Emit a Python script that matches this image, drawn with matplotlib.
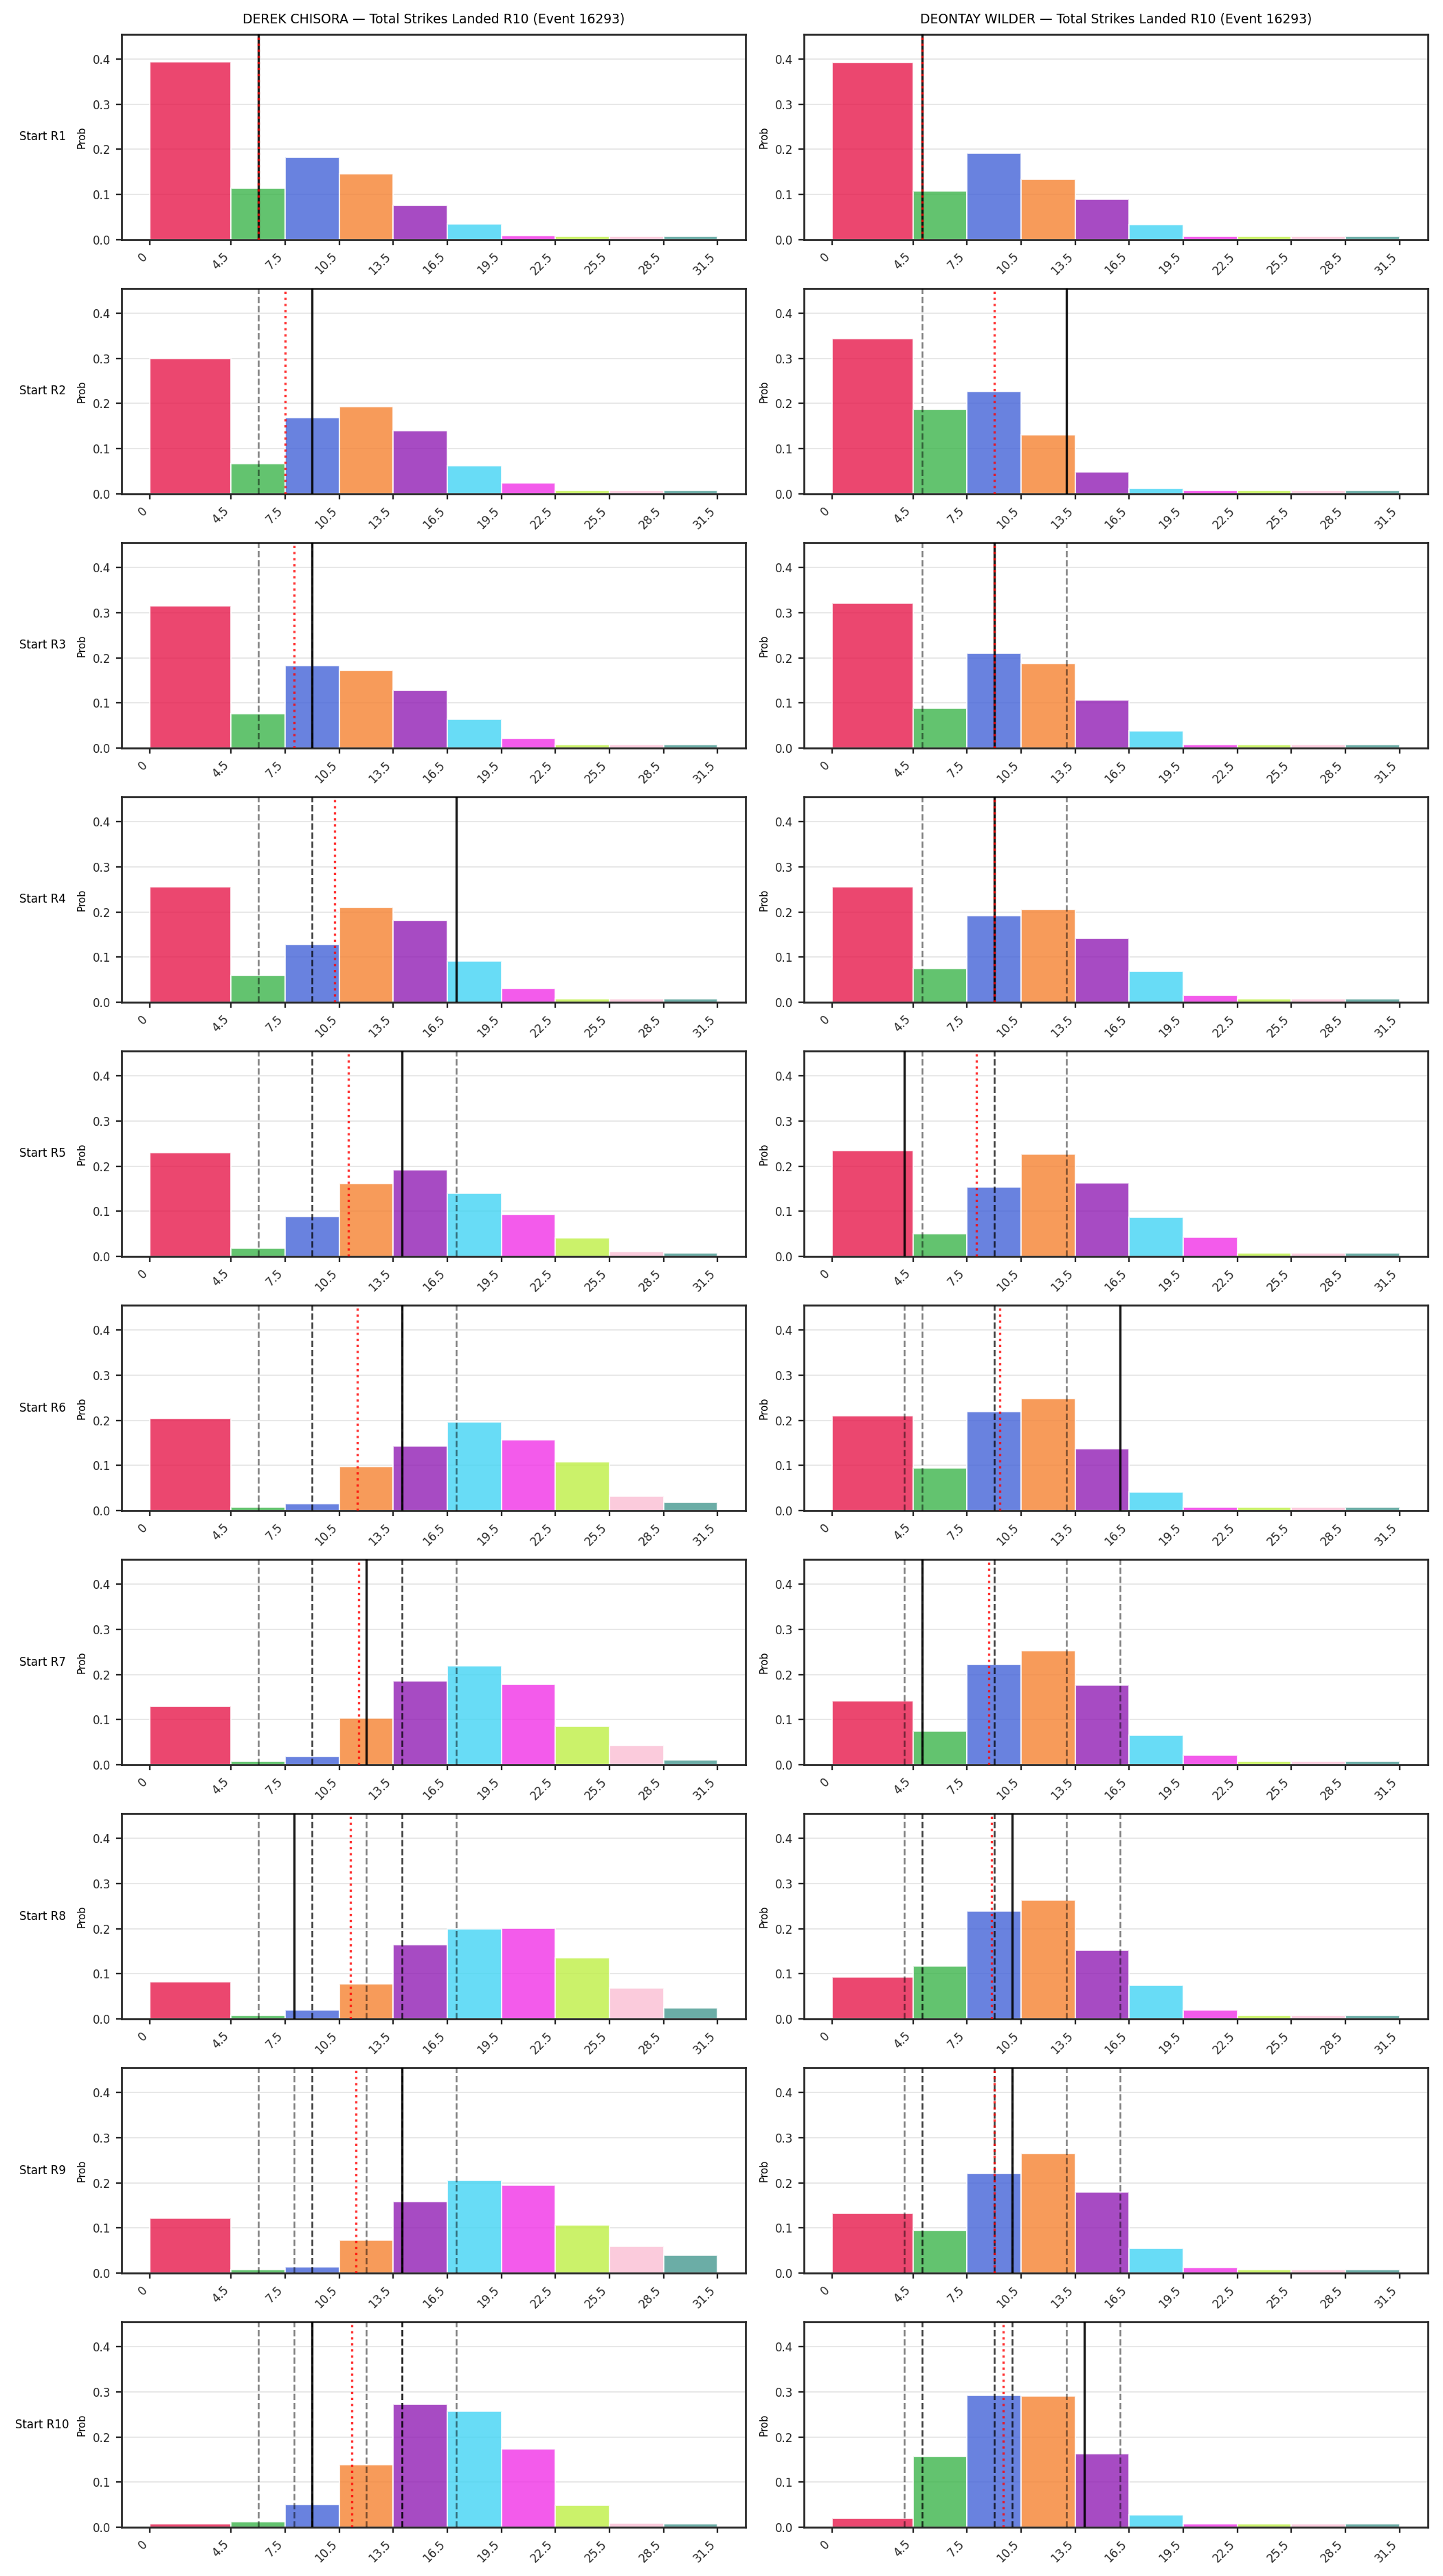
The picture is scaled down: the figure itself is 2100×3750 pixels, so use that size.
import numpy as np
import matplotlib
matplotlib.use("Agg")
import matplotlib.pyplot as plt

# ---------------- data ----------------
fighters = ["DEREK CHISORA", "DEONTAY WILDER"]
title_suffix = "Total Strikes Landed R10 (Event 16293)"
row_labels = [f"Start R{i}" for i in range(1, 11)]

bin_edges = [0, 4.5, 7.5, 10.5, 13.5, 16.5, 19.5, 22.5, 25.5, 28.5, 31.5]
tick_labels = ["0", "4.5", "7.5", "10.5", "13.5", "16.5", "19.5", "22.5", "25.5", "28.5", "31.5"]

bar_colors = ["#e6194b", "#3cb44b", "#4363d8", "#f58231", "#911eb4",
              "#42d4f4", "#f032e6", "#bfef45", "#fabed4", "#469990"]

# probabilities per starting round (rows R1..R10), one list per fighter
chisora_probs = [
    [0.394, 0.114, 0.182, 0.146, 0.076, 0.035, 0.009, 0.007, 0.007, 0.007],
    [0.300, 0.067, 0.169, 0.193, 0.140, 0.063, 0.024, 0.007, 0.007, 0.007],
    [0.315, 0.076, 0.183, 0.172, 0.128, 0.064, 0.021, 0.007, 0.007, 0.007],
    [0.256, 0.060, 0.128, 0.210, 0.181, 0.091, 0.030, 0.007, 0.007, 0.007],
    [0.230, 0.018, 0.088, 0.161, 0.192, 0.140, 0.093, 0.041, 0.010, 0.007],
    [0.204, 0.007, 0.016, 0.098, 0.143, 0.196, 0.157, 0.108, 0.032, 0.018],
    [0.130, 0.007, 0.018, 0.104, 0.186, 0.219, 0.178, 0.085, 0.042, 0.011],
    [0.082, 0.007, 0.020, 0.077, 0.164, 0.200, 0.201, 0.135, 0.069, 0.024],
    [0.122, 0.007, 0.014, 0.073, 0.159, 0.206, 0.195, 0.107, 0.059, 0.039],
    [0.008, 0.013, 0.050, 0.138, 0.272, 0.257, 0.173, 0.049, 0.010, 0.008],
]
wilder_probs = [
    [0.393, 0.108, 0.192, 0.134, 0.090, 0.033, 0.007, 0.007, 0.007, 0.007],
    [0.344, 0.187, 0.227, 0.131, 0.048, 0.012, 0.007, 0.007, 0.007, 0.007],
    [0.321, 0.088, 0.210, 0.187, 0.106, 0.038, 0.007, 0.007, 0.007, 0.007],
    [0.256, 0.074, 0.192, 0.205, 0.141, 0.069, 0.015, 0.007, 0.007, 0.007],
    [0.235, 0.050, 0.153, 0.226, 0.163, 0.087, 0.042, 0.007, 0.007, 0.007],
    [0.210, 0.094, 0.219, 0.248, 0.137, 0.041, 0.007, 0.007, 0.007, 0.007],
    [0.141, 0.074, 0.222, 0.253, 0.177, 0.065, 0.021, 0.007, 0.007, 0.007],
    [0.093, 0.118, 0.239, 0.263, 0.153, 0.075, 0.020, 0.007, 0.007, 0.007],
    [0.132, 0.095, 0.221, 0.265, 0.180, 0.055, 0.012, 0.007, 0.007, 0.007],
    [0.020, 0.157, 0.292, 0.291, 0.163, 0.027, 0.008, 0.008, 0.008, 0.008],
]

# marker line value at each starting round (solid black); earlier rounds shown dashed
chisora_lines = [6, 9, 9, 17, 14, 14, 12, 8, 14, 9]
wilder_lines = [5, 13, 9, 9, 4, 16, 5, 10, 10, 14]

# ---------------- plot ----------------
plt.rcParams["font.family"] = ["DejaVu Sans"]

fig, axes = plt.subplots(10, 2, figsize=(14, 25), dpi=150)
fig.subplots_adjust(left=0.0843, right=0.9895, top=0.9867, bottom=0.0189,
                    wspace=0.0925, hspace=0.2375)

edges = np.array(bin_edges)
lefts = edges[:-1]
widths = np.diff(edges)

for col, (name, probs, lines) in enumerate(
        [(fighters[0], chisora_probs, chisora_lines),
         (fighters[1], wilder_probs, wilder_lines)]):
    for row in range(10):
        ax = axes[row, col]
        ax.bar(lefts, probs[row], width=widths, align="edge", color=bar_colors,
               alpha=0.8, edgecolor="white", linewidth=1, zorder=2)
        # previous rounds' markers
        for prev in lines[:row]:
            ax.axvline(prev, color="black", linestyle="--", linewidth=1.2,
                       alpha=0.5, zorder=3)
        ax.axvline(lines[row], color="black", linestyle="-", linewidth=1.6,
                   alpha=0.9, zorder=4)
        mean_val = np.mean(lines[:row + 1])
        ax.axvline(mean_val, color="red", linestyle=":", linewidth=1.6,
                   alpha=0.8, zorder=5)

        ax.set_ylim(0, 0.455)
        ax.set_yticks([0.0, 0.1, 0.2, 0.3, 0.4])
        ax.set_yticklabels(["0.0", "0.1", "0.2", "0.3", "0.4"])
        ax.set_xticks(bin_edges)
        ax.set_xticklabels(tick_labels, rotation=45, ha="right")
        ax.tick_params(axis="both", labelsize=8, length=4, width=1.1,
                       colors="#262626")
        ax.grid(axis="y", color="#b0b0b0", alpha=0.3, linewidth=0.9, zorder=0)
        ax.set_axisbelow(True)
        for sp in ax.spines.values():
            sp.set_color("#262626")
            sp.set_linewidth(1.3)
        ax.set_ylabel("Prob", fontsize=7)
        if col == 0:
            ax.text(-0.127, 0.5, row_labels[row], transform=ax.transAxes,
                    ha="center", va="center", fontsize=8)
        if row == 0:
            ax.set_title(f"{name} \u2014 {title_suffix}", fontsize=9, pad=8)

fig.savefig("out.png", dpi=150)
